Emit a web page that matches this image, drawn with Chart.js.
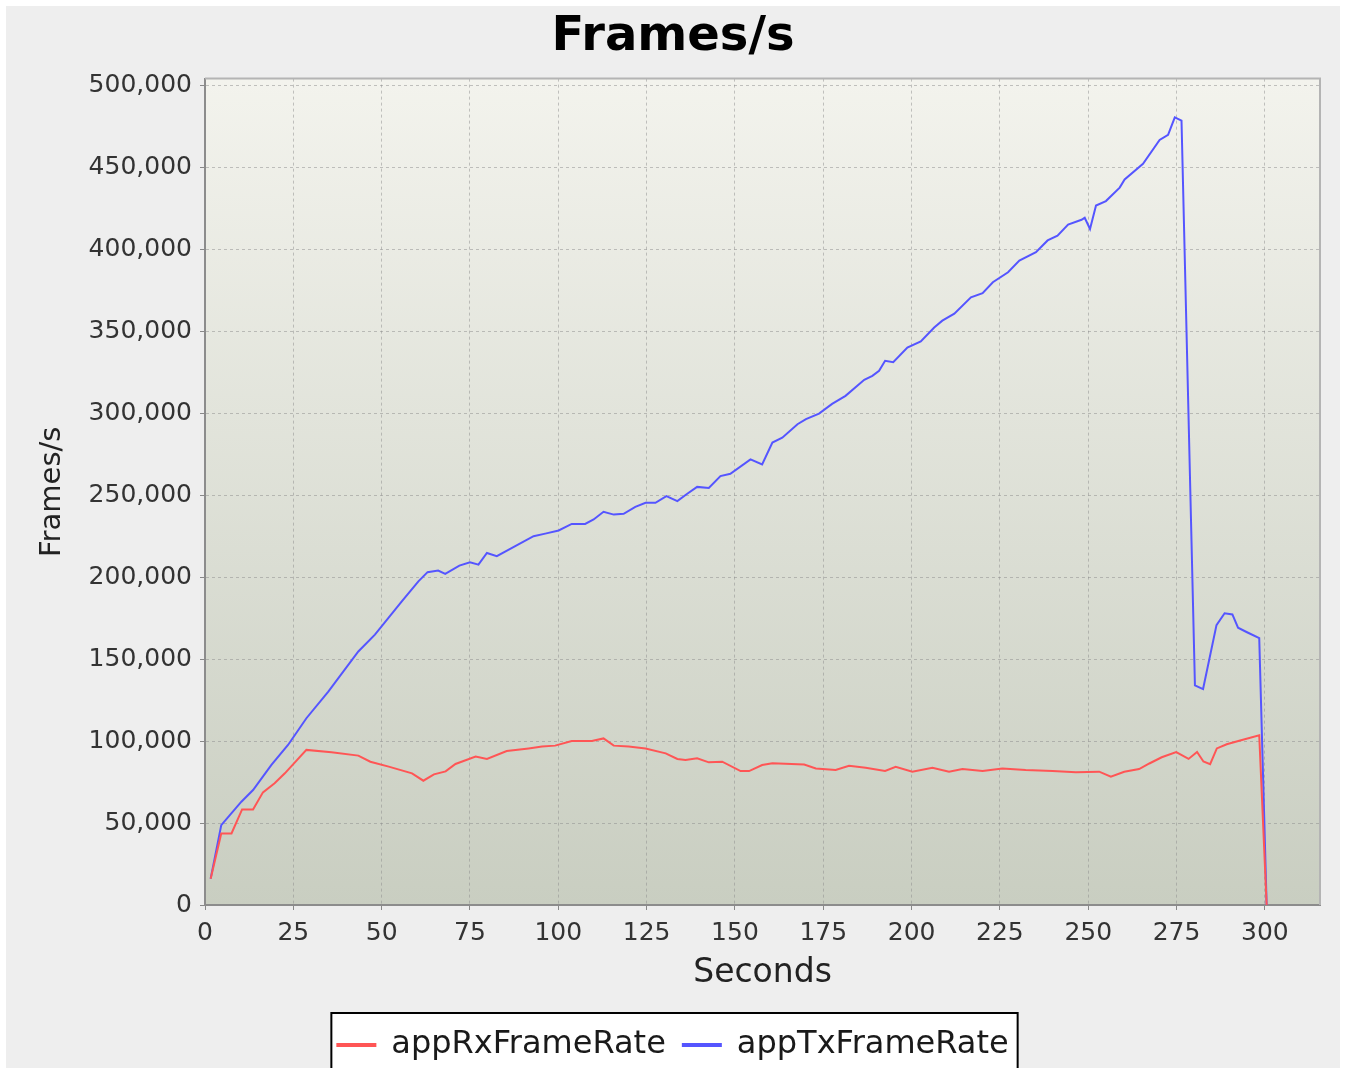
<!DOCTYPE html>
<html>
<head>
<meta charset="utf-8">
<title>Frames/s</title>
<script src="https://cdn.jsdelivr.net/npm/chart.js@4.4.1/dist/chart.umd.min.js"></script>
<style>
    html, body { margin: 0; padding: 0; background: #ffffff; }
    #frame {
        position: absolute; left: 6px; top: 6px;
        width: 1334px; height: 1062px;
        background: #eeeeee; overflow: hidden;
    }
    #framesChart { position: absolute; left: 0; top: 0; }
</style>
</head>
<body>
<div id="frame">
    <canvas id="framesChart" width="1334" height="1065"></canvas>
</div>
<script>
// values (seconds, frames/s)
const rxSeconds = [1.6, 4.6, 7.5, 10.5, 13.6, 16.4, 19.7, 22.6, 28.7, 35.8, 43.4, 46.8, 52, 58.6, 61.8, 64.8, 68.1, 70.9, 76.6, 79.8,
    85.4, 91.6, 95.4, 99.1, 103.8, 109.5, 112.8, 115.7, 119.9, 124.7, 130.4, 133.7, 136, 139.3, 142.6, 146.4, 151.6, 154, 157.7, 160.6,
    169.6, 172.9, 178.5, 182.3, 187, 192.5, 195.5, 200.2, 205.9, 210.6, 214.4, 220.1, 225.7, 232.3, 239.9, 246.5, 253.1, 256.4, 260.2, 264.4,
    267.3, 270.8, 274.9, 278.4, 280.8, 282.6, 284.5, 286.4, 289.2, 293, 298.4, 300.5];
const rxFrames = [16000, 43600, 43600, 58300, 58300, 68700, 74200, 80300, 94600, 93100, 91100, 87400, 84400, 80300, 75800, 79700, 81500, 86000, 90500, 89100,
    93900, 95500, 96600, 97200, 100000, 100000, 101600, 97200, 96600, 95500, 92500, 89100, 88500, 89500, 87000, 87400, 81700, 81700, 85400, 86400,
    85700, 83300, 82300, 84900, 83700, 81700, 84300, 81300, 83700, 81300, 82900, 81700, 83300, 82300, 81700, 80900, 81300, 78200, 81300, 82900,
    86300, 90100, 93300, 89100, 93300, 87500, 85900, 95500, 98000, 100300, 103500, 0];

const txSeconds = [1.6, 4.6, 10.3, 13.6, 18.8, 23.5, 28.7, 34.9, 43.4, 48.1, 55.7, 60.4, 63, 66, 68, 72, 75, 77.4, 79.8, 82.6,
    86.9, 93, 96.3, 100.1, 103.8, 107.6, 110, 112.8, 115.7, 118.5, 121.8, 124.7, 127.5, 130.6, 133.7, 136.5, 139.3, 142.6, 145.9, 148.7,
    154.4, 157.7, 160.6, 163.4, 167.7, 170.1, 173.8, 177.5, 181.3, 186.6, 188.9, 190.8, 192.5, 194.8, 198.8, 202.6, 206.4, 208.7, 212.1, 216.8,
    220.1, 223, 227.3, 230.5, 235.2, 238.5, 241.3, 244.3, 248.1, 249, 250.5, 252.2, 255, 258.9, 260.3, 265.5, 270.2, 272.6, 274.5, 276.4,
    280.2, 282.5, 286.3, 288.6, 290.8, 292.4, 294.8, 298.4, 300.5];
const txFrames = [16100, 48700, 63000, 70100, 85400, 97600, 113900, 130200, 154600, 164900, 185200, 197400, 203000, 204000, 202000, 207000, 209000, 207600, 214700, 212700,
    217800, 224900, 226500, 228400, 232400, 232400, 235100, 239800, 238100, 238600, 242800, 245300, 245300, 249400, 246300, 250800, 255000, 254300, 261600, 263000,
    271800, 268700, 282000, 285000, 293200, 296300, 299700, 305600, 310500, 320300, 322700, 325800, 331900, 331000, 340000, 343700, 352200, 356400, 360600, 370600,
    373100, 379800, 385900, 393000, 398100, 405300, 408200, 415000, 417900, 419100, 412300, 426600, 429300, 437500, 442500, 452100, 466600, 469700, 480300, 478400,
    133900, 131700, 170700, 177900, 177200, 169100, 166500, 162700, 0];

const xTickValues = [0, 25, 50, 75, 100, 125, 150, 175, 200, 225, 250, 275, 300];
const yTickValues = [0, 50000, 100000, 150000, 200000, 250000, 300000, 350000, 400000, 450000, 500000];

const seriesNames = ['appRxFrameRate', 'appTxFrameRate'];
const seriesColors = ['#ff5555', '#5555ff'];

const FONT = '"DejaVu Sans", "Liberation Sans", sans-serif';

function toPoints(xs, ys) {
    return xs.map((x, i) => ({ x: x, y: ys[i] }));
}

// gradient plot background + light frame on top/right
const plotBackground = {
    id: 'plotBackground',
    beforeDraw(chart) {
        const { ctx, chartArea: a } = chart;
        const g = ctx.createLinearGradient(0, a.top, 0, a.bottom);
        g.addColorStop(0, '#f3f3ed');
        g.addColorStop(1, '#c9cec1');
        ctx.save();
        ctx.fillStyle = g;
        ctx.fillRect(a.left, a.top, a.right - a.left, a.bottom - a.top);
        ctx.restore();
    },
    afterDraw(chart) {
        const { ctx, chartArea: a } = chart;
        ctx.save();
        ctx.strokeStyle = '#b4b4b4';
        ctx.lineWidth = 2;
        ctx.beginPath();
        ctx.moveTo(a.left, a.top);
        ctx.lineTo(a.right, a.top);
        ctx.lineTo(a.right, a.bottom);
        ctx.stroke();
        ctx.restore();
    }
};

// white legend box with a black frame round the items
function legendBounds(chart) {
    const boxes = chart.legend.legendHitBoxes;
    if (!boxes || !boxes.length) return null;
    const left = Math.min(...boxes.map(b => b.left)) - 6;
    const right = Math.max(...boxes.map(b => b.left + b.width)) + 9;
    return { left: left, top: chart.legend.top, width: right - left, height: 200 };
}

const legendFrame = {
    id: 'legendFrame',
    beforeDraw(chart) {
        const b = legendBounds(chart);
        if (!b) return;
        chart.ctx.save();
        chart.ctx.fillStyle = '#ffffff';
        chart.ctx.fillRect(b.left, b.top, b.width, b.height);
        chart.ctx.restore();
    },
    afterDraw(chart) {
        const b = legendBounds(chart);
        if (!b) return;
        chart.ctx.save();
        chart.ctx.strokeStyle = '#000000';
        chart.ctx.lineWidth = 2;
        chart.ctx.strokeRect(b.left, b.top + 1, b.width, b.height);
        chart.ctx.restore();
    }
};

const gridStyle = {
    color: 'rgba(140,140,140,0.5)',
    tickColor: '#888888',
    tickLength: 5,
    tickBorderDash: []
};

const ctx = document.getElementById('framesChart').getContext('2d');
new Chart(ctx, {
    type: 'line',
    data: {
        datasets: [
            {
                label: seriesNames[0],
                data: toPoints(rxSeconds, rxFrames),
                borderColor: seriesColors[0],
                backgroundColor: seriesColors[0],
                borderWidth: 2,
                pointRadius: 0,
                tension: 0
            },
            {
                label: seriesNames[1],
                data: toPoints(txSeconds, txFrames),
                borderColor: seriesColors[1],
                backgroundColor: seriesColors[1],
                borderWidth: 2,
                pointRadius: 0,
                tension: 0
            }
        ]
    },
    options: {
        responsive: false,
        animation: false,
        devicePixelRatio: 1,
        layout: { padding: { left: 20, right: 20, top: 0, bottom: 0 } },
        plugins: {
            title: {
                display: true,
                text: 'Frames/s',
                color: '#000000',
                font: { family: FONT, size: 48, weight: 'bold' },
                padding: { top: 3, bottom: 12 }
            },
            legend: {
                position: 'bottom',
                labels: {
                    color: '#1a1a1a',
                    font: { family: FONT, size: 32 },
                    boxWidth: 38,
                    boxHeight: 2,
                    padding: 17
                }
            },
            tooltip: { enabled: false }
        },
        scales: {
            x: {
                type: 'linear',
                min: 0,
                max: 315.6,
                afterFit: scale => { scale.height = 107; },
                afterBuildTicks: scale => { scale.ticks = xTickValues.map(v => ({ value: v })); },
                ticks: {
                    color: '#333333',
                    padding: 8,
                    font: { family: FONT, size: 25 }
                },
                grid: gridStyle,
                border: { display: true, color: '#8c8c8c', width: 2, dash: [3, 3] },
                title: {
                    display: true,
                    text: 'Seconds',
                    color: '#222222',
                    font: { family: FONT, size: 33 },
                    padding: { top: 0, bottom: 19 }
                }
            },
            y: {
                min: 0,
                max: 504000,
                afterFit: scale => { scale.width = 179; },
                afterBuildTicks: scale => { scale.ticks = yTickValues.map(v => ({ value: v })); },
                ticks: {
                    color: '#333333',
                    padding: 8,
                    font: { family: FONT, size: 25 },
                    callback: v => v.toLocaleString('en-US')
                },
                grid: gridStyle,
                border: { display: true, color: '#8c8c8c', width: 2, dash: [3, 3] },
                title: {
                    display: true,
                    text: 'Frames/s',
                    color: '#222222',
                    font: { family: FONT, size: 29 },
                    padding: { top: 9, bottom: 0 }
                }
            }
        }
    },
    plugins: [plotBackground, legendFrame]
});
</script>
</body>
</html>
